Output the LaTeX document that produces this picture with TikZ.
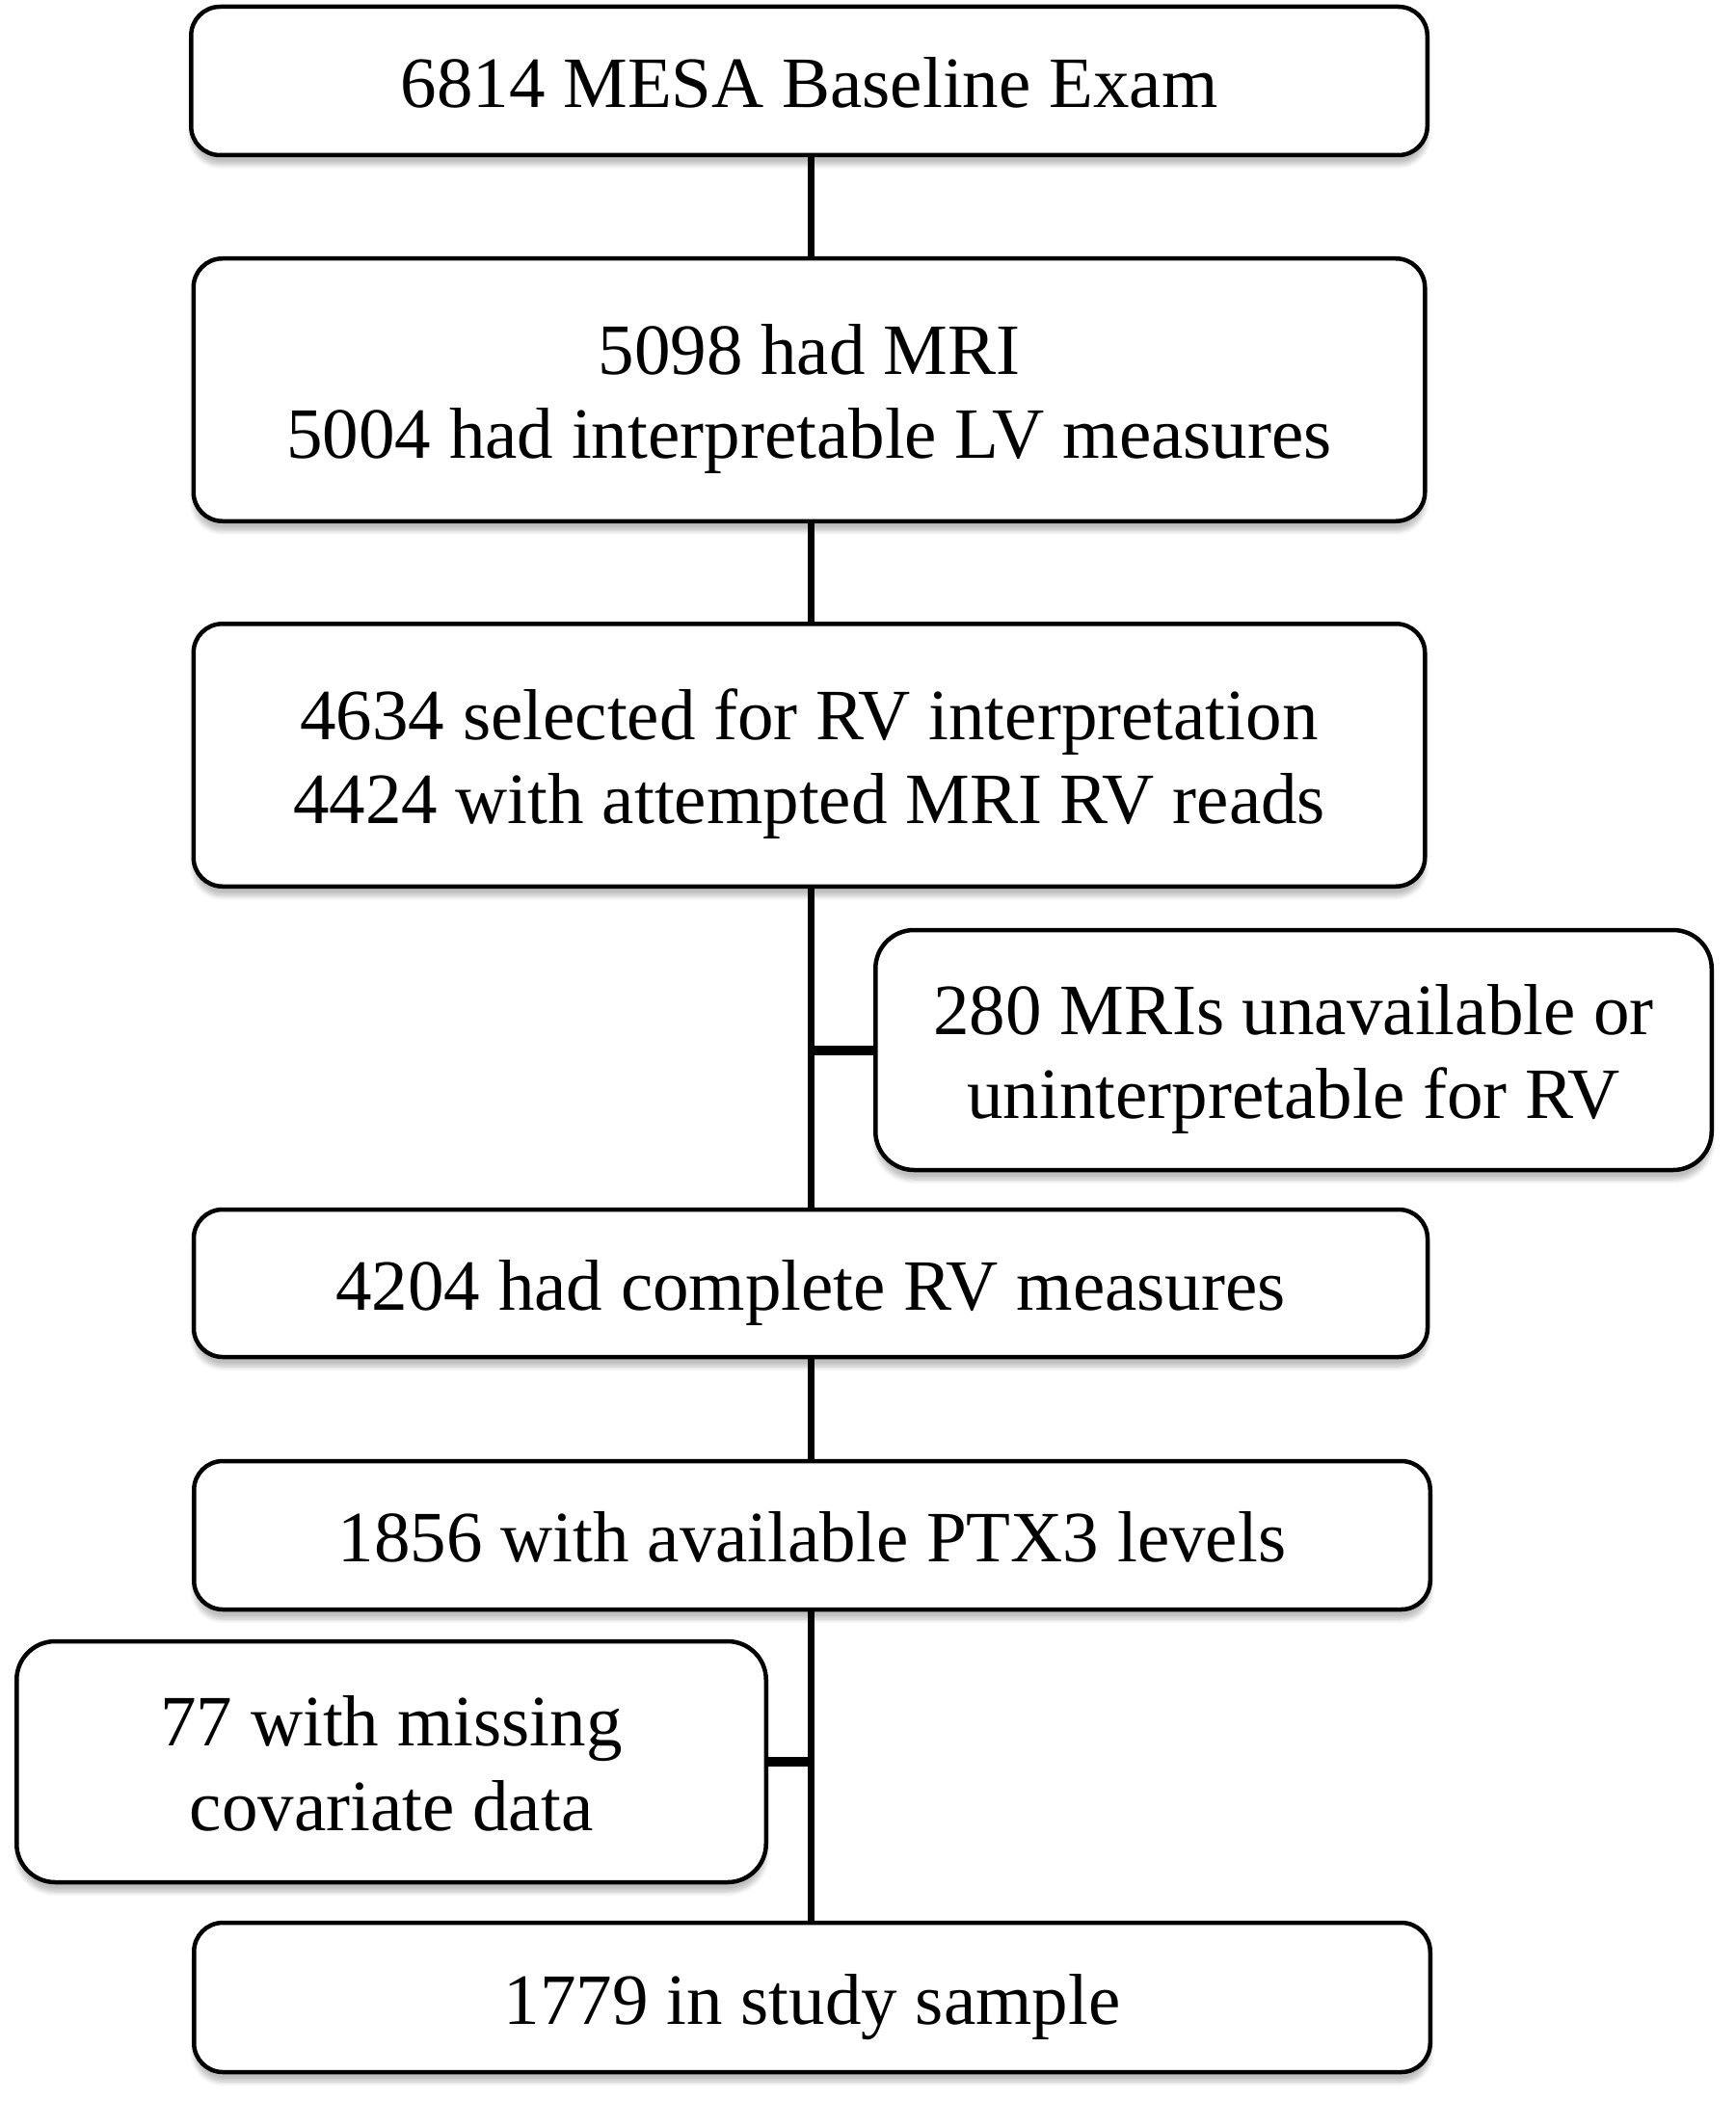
\documentclass[tikz,border=0pt]{standalone}
\usepackage{fontspec}
\setmainfont{Liberation Serif}
\usetikzlibrary{shadows.blur}
\newcommand{\bxt}[1]{\raisebox{-4pt}[\height][\depth]{\begin{tabular}{@{}c@{}}#1\end{tabular}}}
\tikzset{
  box/.style={draw=black, line width=1.8pt, rounded corners=12pt, fill=white,
    align=center, inner sep=0pt,
    font=\fontsize{30pt}{35pt}\selectfont,
    blur shadow={shadow xshift=0pt, shadow yshift=-4pt, shadow blur steps=6, shadow opacity=25}},
  sidebox/.style={box, rounded corners=16pt},
  conn/.style={draw=black, line width=2.8pt},
  stub/.style={draw=black, line width=4pt}
}
\begin{document}
\begin{tikzpicture}[x=1pt,y=1pt]
\useasboundingbox (0,0) rectangle (720,-872);
\node[box, minimum width=513pt, minimum height=61.6pt] (b1) at (335.8,-33.6) {\bxt{6814 MESA Baseline Exam}};
\node[box, minimum width=511pt, minimum height=109pt] (b2) at (335.8,-161.8) {\bxt{5098 had MRI\\5004 had interpretable LV measures}};
\node[box, minimum width=511pt, minimum height=109pt] (b3) at (335.8,-313.4) {\bxt{4634 selected for RV interpretation\\4424 with attempted MRI RV reads}};
\node[sidebox, minimum width=347pt, minimum height=99.6pt] (b4) at (536.8,-435.8) {\bxt{280 MRIs unavailable or\\uninterpretable for RV}};
\node[box, minimum width=512pt, minimum height=61.2pt] (b5) at (336.4,-532.6) {\bxt{4204 had complete RV measures}};
\node[box, minimum width=513pt, minimum height=61.6pt] (b6) at (337,-637.2) {\bxt{1856 with available PTX3 levels}};
\node[sidebox, minimum width=311pt, minimum height=100pt] (b7) at (162.4,-731.2) {\bxt{77 with missing\\covariate data}};
\node[box, minimum width=513pt, minimum height=62pt] (b8) at (337,-829) {\bxt{1779 in study sample}};
\coordinate (sx) at (336.4,0);
\draw[conn] (b1.south -| sx) -- (b2.north -| sx);
\draw[conn] (b2.south -| sx) -- (b3.north -| sx);
\draw[conn] (b3.south -| sx) -- (b5.north -| sx);
\draw[conn] (b5.south -| sx) -- (b6.north -| sx);
\draw[conn] (b6.south -| sx) -- (b8.north -| sx);
\draw[stub] (b4.west) -- (b4.west -| sx);
\draw[stub] (b7.east) -- (b7.east -| sx);
\end{tikzpicture}
\end{document}
